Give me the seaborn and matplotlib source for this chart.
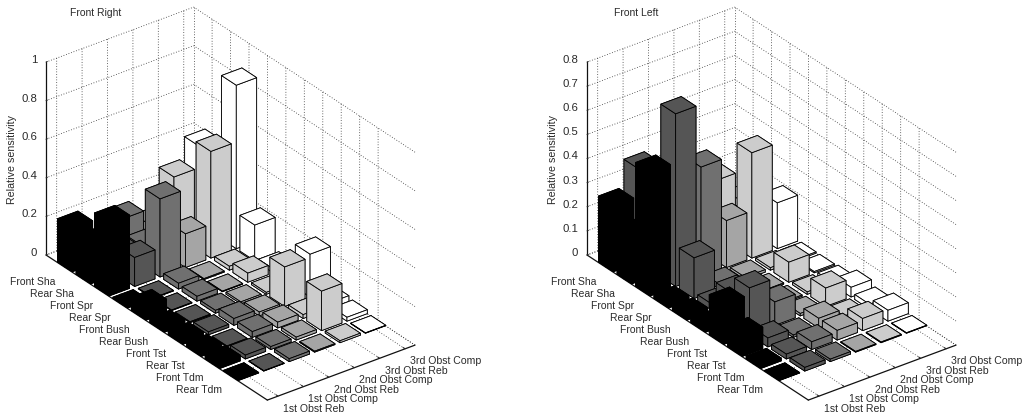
import numpy as np
import matplotlib
matplotlib.use("Agg")
import matplotlib.pyplot as plt
import seaborn as sns
from mpl_toolkits.mplot3d import proj3d

rows = ["Front Sha", "Rear Sha", "Front Spr", "Rear Spr", "Front Bush",
        "Rear Bush", "Front Tst", "Rear Tst", "Front Tdm", "Rear Tdm"]
cols = ["1st Obst Reb", "1st Obst Comp", "2nd Obst Reb",
        "2nd Obst Comp", "3rd Obst Reb", "3rd Obst Comp"]

# one list per column, rows in the order above
fr_reb1  = [.225, .20, .38, .006, .07, .025, .025, .025, .03, .003]
fr_comp1 = [.10, .12, .15, .003, .003, .005, .015, .005, .02, .002]
fr_reb2  = [.177, .10, .405, .03, .025, .015, .035, .03, .015, .015]
fr_comp2 = [.10, .08, .175, .005, .003, .01, .02, .03, .015, .005]
fr_reb3  = [.295, .05, .553, .02, .047, .01, .205, .02, .205, .01]
fr_comp3 = [.405, .05, .847, .185, .02, .01, .222, .03, .02, .002]

fl_reb1  = [.274, .20, .513, .02, .02, .02, .166, .09, .012, .002]
fl_comp1 = [.387, .15, .716, .169, .025, .126, .195, .037, .02, .015]
fl_reb2  = [.20, .15, .456, .02, .03, .02, .097, .01, .032, .01]
fl_comp2 = [.15, .12, .195, .01, .005, .005, .01, .04, .04, .003]
fl_reb3  = [.22, .10, .437, .01, .083, .01, .076, .01, .05, .003]
fl_comp3 = [.10, .08, .19, .005, .005, .01, .04, .02, .045, .002]

front_right = [fr_reb1, fr_comp1, fr_reb2, fr_comp2, fr_reb3, fr_comp3]
front_left = [fl_reb1, fl_comp1, fl_reb2, fl_comp2, fl_reb3, fl_comp3]

sns.set_theme(style="white", rc={
    "grid.linestyle": (0, (1, 2.2)), "grid.color": "#333333", "grid.linewidth": 0.6,
    "axes.linewidth": 0.9, "axes.edgecolor": "#111111"})
plt.rcParams["font.family"] = ["Liberation Sans", "DejaVu Sans"]
palette = sns.color_palette(["#000000", "#555555", "#707070", "#a5a5a5", "#cccccc", "#ffffff"])

W, H = 1029, 419
fig = plt.figure(figsize=(W / 100, H / 100), dpi=100, facecolor="white")
XLIM, YLIM = (0, 12), (0.58, 6.39)
TXT = "#2a2a2a"


def corner(ax, x, y, z):
    X, Y, _ = proj3d.proj_transform(x, y, z, ax.get_proj())
    return ax.transData.transform((X, Y))


def panel(values, zmax, zticks, title, x0, title_x):
    ax = fig.add_axes([0, 0, 400 / W, 400 / H], projection="3d", proj_type="ortho",
                      computed_zorder=False)
    ax.patch.set_alpha(0)
    ax.set_xlim(*XLIM, view_margin=0)
    ax.set_ylim(*YLIM, view_margin=0)
    ax.set_zlim(0, zmax, view_margin=0)
    ax.set_box_aspect((368, 185, 222))
    ax.view_init(elev=29.6, azim=-37)

    # fit the box to its place in the figure
    ax.apply_aspect()
    p0 = corner(ax, XLIM[0], YLIM[0], 0)
    p1 = corner(ax, XLIM[1], YLIM[1], 0)
    side = 400 * 369 / (p1[0] - p0[0])
    ax.set_position([0, 0, side / W, side / H])
    ax.apply_aspect()
    p0 = corner(ax, XLIM[0], YLIM[0], 0)
    ax.set_position([(x0 - p0[0]) / W, ((H - 255) - p0[1]) / H, side / W, side / H])
    ax.apply_aspect()

    for axis in (ax.xaxis, ax.yaxis, ax.zaxis):
        axis.set_pane_color((1, 1, 1, 0))
        axis.pane.set_edgecolor((1, 1, 1, 0))
    ax.grid(True)

    # dotted edges at the back of the box
    dot = dict(color="#333333", lw=0.6, ls=(0, (1, 2.2)), zorder=0)
    ax.plot([XLIM[0], XLIM[0]], YLIM, [0, 0], **dot)
    ax.plot(XLIM, [YLIM[1], YLIM[1]], [0, 0], **dot)
    ax.plot([XLIM[0], XLIM[0]], [YLIM[1], YLIM[1]], [0, zmax], **dot)

    # bars back to front
    order = 1
    for c in range(6, 0, -1):
        for r in range(1, 11):
            ax.bar3d(r - .4, c - .4, 0, .8, .8, values[c - 1][r - 1],
                     color=palette[c - 1], edgecolor="black", linewidth=0.6,
                     shade=False, zorder=order)
            order += 1

    ax.set_xticks(range(1, 11))
    ax.set_xticklabels(rows, fontsize=7.5, color=TXT, ha="right", va="center")
    ax.set_yticks(range(1, 7))
    ax.set_yticklabels(cols, fontsize=7.6, color=TXT, ha="left", va="top")
    ax.set_zticks(zticks)
    ax.set_zticklabels([f"{t:g}" for t in zticks], fontsize=8.2, color=TXT, ha="right", va="center")
    ax.zaxis.set_ticks_position("lower")
    ax.tick_params(axis="x", pad=2)
    ax.tick_params(axis="y", pad=-4.2)
    ax.tick_params(axis="z", pad=-4)
    for axis in (ax.xaxis, ax.yaxis, ax.zaxis):
        axis._axinfo["tick"]["inward_factor"] = 0
        axis._axinfo["tick"]["outward_factor"] = 0.12
        axis._axinfo["tick"]["linewidth"] = {True: 0.7, False: 0.5}
        axis._axinfo["axisline"]["linewidth"] = 0.9
        axis._axinfo["axisline"]["color"] = "#111111"

    ax.text2D((x0 - 34) / W, 1 - 160 / H, "Relative sensitivity", transform=fig.transFigure,
              rotation=90, ha="center", va="center", fontsize=7.7, color=TXT)
    tx, ty = ax.transAxes.inverted().transform((title_x, H - 13))
    ax.set_title(title, fontsize=7.5, y=1.0, pad=0, ha="left", va="center", color=TXT)
    ax.title.set_position((tx, ty))
    return ax


panel(front_right, 1.0, [0, .2, .4, .6, .8, 1], "Front Right", 46, 70)
panel(front_left, 0.8, [0, .1, .2, .3, .4, .5, .6, .7, .8], "Front Left", 587, 614)
fig.savefig("out.png", dpi=100, facecolor="white")
